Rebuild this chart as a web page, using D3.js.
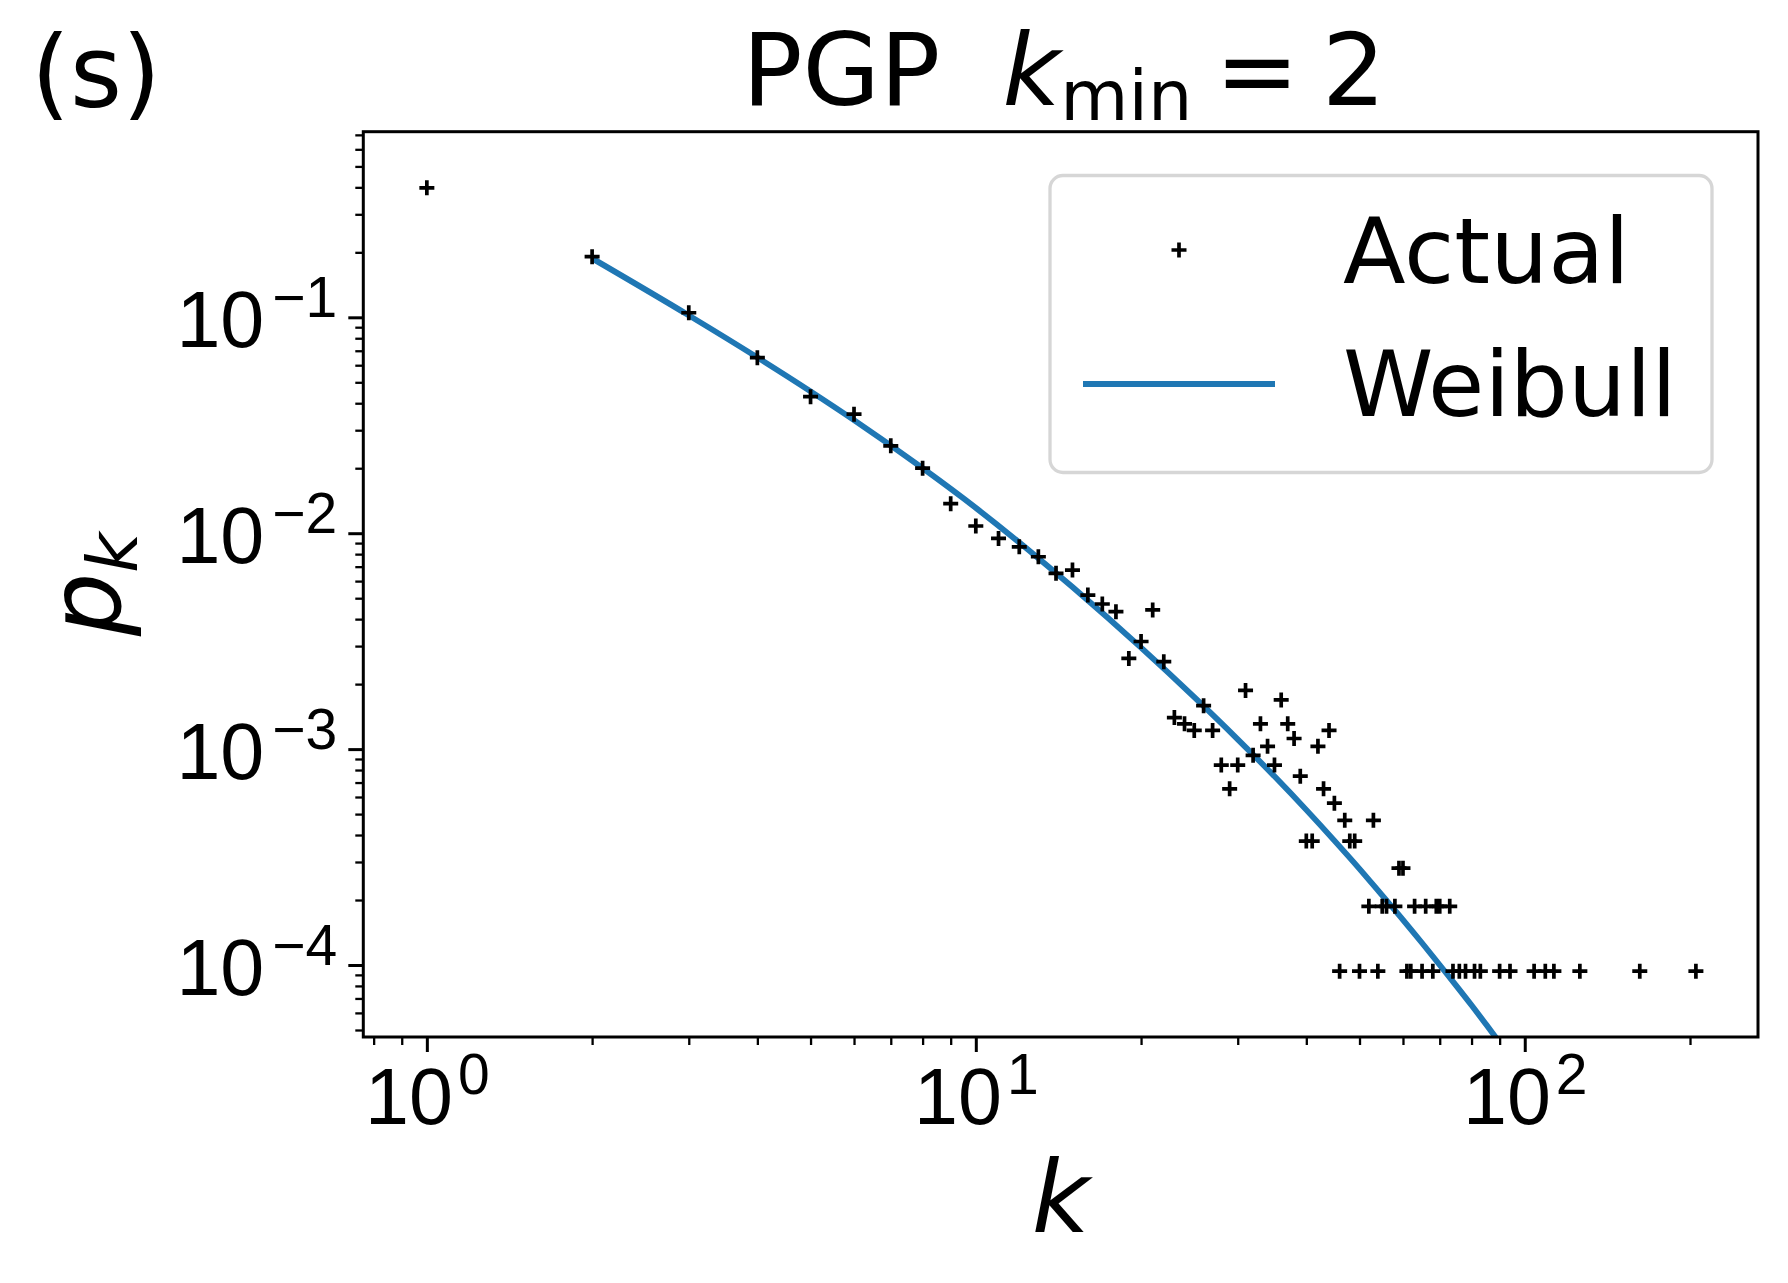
<!DOCTYPE html>
<html>
<head>
<meta charset="utf-8">
<script src="https://cdnjs.cloudflare.com/ajax/libs/d3/7.9.0/d3.min.js"></script>
<style>
  html, body { margin: 0; padding: 0; background: #fff; }
  svg { display: block; font-family: "DejaVu Sans", sans-serif; }
</style>
</head>
<body>
<div id="chart"></div>
<script>
// degree distribution of the PGP network
const actualK = [1, 2, 3, 4, 5, 6, 7, 8, 9, 10,
  11, 12, 13, 14, 15, 16, 17, 18, 19, 20,
  21, 22, 23, 24, 25, 26, 27, 28, 29, 30,
  31, 32, 33, 34, 35, 36, 37, 38, 39, 40,
  41, 42, 43, 44, 45, 46, 47, 48, 49, 50,
  52, 53, 54, 55, 56, 58, 59, 60, 61, 62,
  63, 65, 66, 68, 69, 70, 73, 74, 76, 78,
  81, 83, 90, 94, 104, 109, 113, 126, 162, 205];
const actualP = [0.398, 0.191, 0.105, 0.0650, 0.0429, 0.0356, 0.0254, 0.0200, 0.0137, 0.0108,
  0.00946, 0.00865, 0.00778, 0.00652, 0.00675, 0.00517, 0.00470, 0.00433, 0.00263, 0.00315,
  0.00441, 0.00254, 0.00140, 0.00131, 0.00122, 0.00159, 0.00122, 8.43e-4, 6.55e-4, 8.43e-4,
  1.87e-3, 9.36e-4, 1.31e-3, 1.03e-3, 8.43e-4, 1.69e-3, 1.31e-3, 1.12e-3, 7.49e-4, 3.75e-4,
  3.75e-4, 1.03e-3, 6.55e-4, 1.22e-3, 5.62e-4, 9.36e-5, 4.68e-4, 3.75e-4, 3.75e-4, 9.36e-5,
  1.87e-4, 4.68e-4, 9.36e-5, 1.87e-4, 1.87e-4, 1.87e-4, 2.81e-4, 2.81e-4, 9.36e-5, 9.36e-5,
  1.87e-4, 9.36e-5, 1.87e-4, 9.36e-5, 1.87e-4, 1.87e-4, 1.87e-4, 9.36e-5, 9.36e-5, 9.36e-5,
  9.36e-5, 9.36e-5, 9.36e-5, 9.36e-5, 9.36e-5, 9.36e-5, 9.36e-5, 9.36e-5, 9.36e-5, 9.36e-5];

// Weibull fit curve, sampled from the drawn line
const fitK = [2, 3, 4, 5, 6, 8, 10, 13, 15, 20, 25, 30, 35, 40, 45, 50,
  55, 60, 65, 70, 75, 80, 85, 90];
const fitP = [0.1875, 0.1021, 0.0652, 0.0454, 0.0334, 0.0200, 0.0131, 0.00766, 0.00563, 0.00295,
  0.00174, 0.00111, 7.48e-4, 5.23e-4, 3.77e-4, 2.79e-4,
  2.10e-4, 1.62e-4, 1.265e-4, 1.00e-4, 8.03e-5, 6.51e-5, 5.31e-5, 4.37e-5];

const xMajor = [1, 10, 100];
const xMajorExp = ["0", "1", "2"];
const yMajor = [1e-1, 1e-2, 1e-3, 1e-4];
const yMajorExp = ["\u22121", "\u22122", "\u22123", "\u22124"];
const legendLabels = ["Actual", "Weibull"];

const width = 1788, height = 1283;
const plot = { left: 363.3, right: 1758, top: 131.7, bottom: 1037 };
const blue = "#1f77b4";

const x = d3.scaleLog().domain([0.766, 266]).range([plot.left, plot.right]);
const y = d3.scaleLog().domain([4.64e-5, 0.724]).range([plot.bottom, plot.top]);

const svg = d3.select("#chart").append("svg")
  .attr("width", width)
  .attr("height", height);

svg.append("defs").append("clipPath").attr("id", "clip")
  .append("rect")
  .attr("x", plot.left).attr("y", plot.top)
  .attr("width", plot.right - plot.left)
  .attr("height", plot.bottom - plot.top);

// minor ticks: every 2..9 multiple inside the domain
function minorTicks(scale) {
  const [a, b] = scale.domain().slice().sort((p, q) => p - q);
  const out = [];
  for (let e = Math.floor(Math.log10(a)); e <= Math.ceil(Math.log10(b)); e++) {
    for (let m = 2; m <= 9; m++) {
      const v = m * Math.pow(10, e);
      if (v >= a && v <= b) out.push(v);
    }
  }
  return out;
}

function styleAxis(g, w) {
  g.select(".domain").remove();
  g.selectAll(".tick line").attr("stroke", "#000").attr("stroke-width", w);
}

const tickFont = 79, supFont = 57;

// x axis
svg.append("g")
  .attr("transform", `translate(0,${plot.bottom})`)
  .call(d3.axisBottom(x).tickValues(minorTicks(x)).tickSize(8).tickSizeOuter(0).tickFormat(""))
  .call(g => styleAxis(g, 2.3));

const gx = svg.append("g")
  .attr("transform", `translate(0,${plot.bottom})`)
  .call(d3.axisBottom(x).tickValues(xMajor).tickSize(15).tickSizeOuter(0).tickFormat(""))
  .call(g => styleAxis(g, 3));
gx.selectAll(".tick text").remove();
gx.selectAll(".tick").each(function (d, i) {
  const t = d3.select(this).append("text")
    .attr("y", 87).attr("text-anchor", "middle")
    .attr("fill", "#000").attr("font-size", tickFont);
  t.append("tspan").text("10");
  t.append("tspan").attr("dy", -30).attr("dx", 5).attr("font-size", supFont).text(xMajorExp[i]);
});

// y axis
svg.append("g")
  .attr("transform", `translate(${plot.left},0)`)
  .call(d3.axisLeft(y).tickValues(minorTicks(y)).tickSize(8).tickSizeOuter(0).tickFormat(""))
  .call(g => styleAxis(g, 2.3));

const gy = svg.append("g")
  .attr("transform", `translate(${plot.left},0)`)
  .call(d3.axisLeft(y).tickValues(yMajor).tickSize(15).tickSizeOuter(0).tickFormat(""))
  .call(g => styleAxis(g, 3));
gy.selectAll(".tick text").remove();
gy.selectAll(".tick").each(function (d, i) {
  const t = d3.select(this).append("text")
    .attr("x", -26).attr("y", 29).attr("text-anchor", "end")
    .attr("fill", "#000").attr("font-size", tickFont);
  t.append("tspan").text("10");
  t.append("tspan").attr("dy", -30).attr("dx", 8).attr("font-size", supFont).text(yMajorExp[i]);
});

// fit line
const fit = fitK.map((k, i) => ({ k, p: fitP[i] }));
svg.append("path")
  .datum(fit)
  .attr("clip-path", "url(#clip)")
  .attr("fill", "none")
  .attr("stroke", blue)
  .attr("stroke-width", 5.8)
  .attr("d", d3.line().x(d => x(d.k)).y(d => y(d.p)).curve(d3.curveMonotoneX));

// data markers
const plus = "M-7.5,0H7.5M0,-7.5V7.5";
const pts = actualK.map((k, i) => ({ k, p: actualP[i] }));
svg.append("g").attr("clip-path", "url(#clip)")
  .selectAll("path").data(pts).join("path")
  .attr("transform", d => `translate(${x(d.k)},${y(d.p)})`)
  .attr("d", plus)
  .attr("stroke", "#000")
  .attr("stroke-width", 3.7)
  .attr("fill", "none");

// frame
svg.append("rect")
  .attr("x", plot.left).attr("y", plot.top)
  .attr("width", plot.right - plot.left)
  .attr("height", plot.bottom - plot.top)
  .attr("fill", "none").attr("stroke", "#000").attr("stroke-width", 3);

// legend
const leg = svg.append("g");
leg.append("rect")
  .attr("x", 1050).attr("y", 175.5)
  .attr("width", 662).attr("height", 297)
  .attr("rx", 13)
  .attr("fill", "#fff").attr("fill-opacity", 0.8)
  .attr("stroke", "#d6d6d6").attr("stroke-width", 3.3);
leg.append("path")
  .attr("transform", "translate(1179,250)")
  .attr("d", plus)
  .attr("stroke", "#000").attr("stroke-width", 3.7);
leg.append("line")
  .attr("x1", 1083).attr("x2", 1275)
  .attr("y1", 384).attr("y2", 384)
  .attr("stroke", blue).attr("stroke-width", 5.8);
leg.selectAll("text").data(legendLabels).join("text")
  .attr("x", 1343)
  .attr("y", (d, i) => 283.3 + i * 132.7)
  .attr("font-size", 91.5)
  .attr("fill", "#000")
  .text(d => d);

// title
const title = svg.append("text")
  .attr("x", 1064).attr("y", 105)
  .attr("text-anchor", "middle")
  .attr("font-size", 100).attr("fill", "#000");
title.append("tspan").text("PGP");
title.append("tspan").attr("dx", 62).attr("font-style", "italic").text("k");
title.append("tspan").attr("dy", 15).attr("font-size", 70).text("min");
title.append("tspan").attr("dy", -15).attr("dx", 23).text("=");
title.append("tspan").attr("dx", 23).text("2");

// panel tag
svg.append("text")
  .attr("x", 31).attr("y", 107)
  .attr("font-size", 100).attr("fill", "#000")
  .text("(s)");

// axis labels
svg.append("text")
  .attr("x", (plot.left + plot.right) / 2).attr("y", 1232)
  .attr("text-anchor", "middle")
  .attr("font-size", 100).attr("font-style", "italic").attr("fill", "#000")
  .text("k");

const yl = svg.append("text")
  .attr("transform", `translate(119.7,${(plot.top + plot.bottom) / 2}) rotate(-90)`)
  .attr("text-anchor", "middle")
  .attr("font-size", 100).attr("font-style", "italic").attr("fill", "#000");
yl.append("tspan").text("p");
yl.append("tspan").attr("dy", 17).attr("font-size", 70).text("k");
</script>
</body>
</html>
